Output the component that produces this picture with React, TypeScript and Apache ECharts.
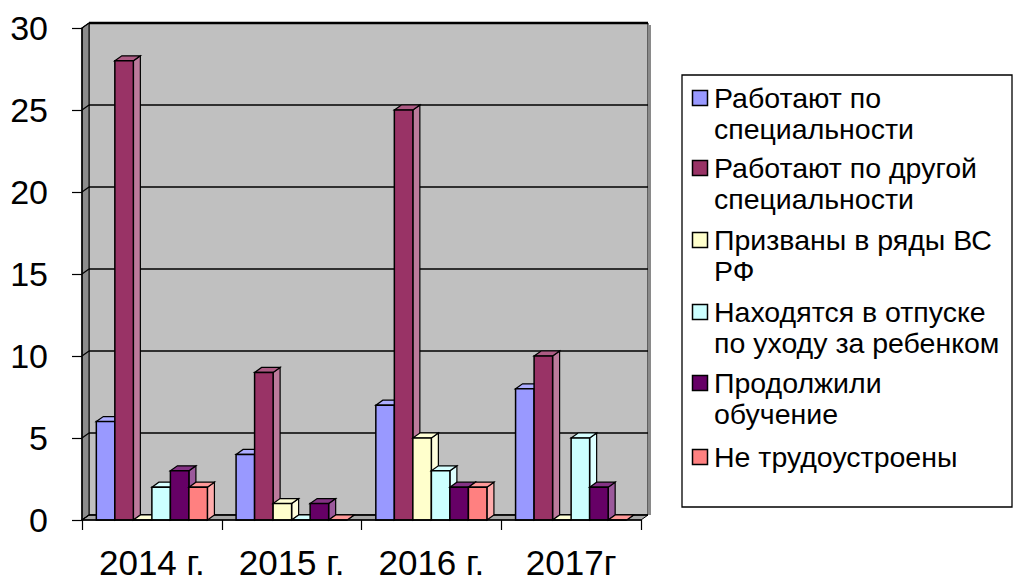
import React, { useEffect, useRef } from "react";
import * as echarts from "echarts";

const categories = ["2014 г.", "2015 г.", "2016 г.", "2017г"];
const seriesNames = [
  "Работают по специальности",
  "Работают по другой специальности",
  "Призваны в ряды ВС РФ",
  "Находятся в отпуске по уходу за ребенком",
  "Продолжили обучение",
  "Не трудоустроены",
];
const legendLabels = [
  "Работают по\nспециальности",
  "Работают по другой\nспециальности",
  "Призваны в ряды ВС\nРФ",
  "Находятся в отпуске\nпо уходу за ребенком",
  "Продолжили\nобучение",
  "Не трудоустроены",
];
const workInField = [6, 4, 7, 8];
const workOtherField = [28, 9, 25, 10];
const conscripted = [0, 1, 5, 0];
const parentalLeave = [2, 0, 3, 5];
const continuedStudy = [3, 1, 2, 2];
const unemployed = [2, 0, 2, 0];
const seriesValues = [workInField, workOtherField, conscripted, parentalLeave, continuedStudy, unemployed];
const colors = ["#9999FF", "#993366", "#FFFFCC", "#CCFFFF", "#660066", "#FF8080"];
const yTicks = [0, 5, 10, 15, 20, 25, 30];

const FONT = "'Liberation Sans', Arial, sans-serif";
const DX = 7;
const DY = 5;

export default function App() {
  const ref = useRef<HTMLDivElement>(null);
  useEffect(() => {
    if (!ref.current) return;
    const chart = echarts.init(ref.current, null, { renderer: "svg" });

    const wallSeries: any = {
      type: "custom",
      name: "walls",
      z: 1,
      silent: true,
      data: [[0, 0]],
      encode: { x: 0, y: 1 },
      renderItem: (params: any, api: any) => {
        const cs = params.coordSys;
        const x0 = cs.x, x1 = cs.x + cs.width;
        const yb = cs.y + cs.height, yt = cs.y;
        const children: any[] = [
          {
            type: "polygon",
            shape: { points: [[x0 + DX, yt - DY], [x1 + DX, yt - DY], [x1 + DX, yb - DY], [x0 + DX, yb - DY]] },
            style: { fill: "#C0C0C0", stroke: "#000", lineWidth: 1 },
          },
          {
            type: "line",
            shape: { x1: x1 + DX + 1.5, y1: yt - DY + 2, x2: x1 + DX + 1.5, y2: yb - DY },
            style: { stroke: "#8a8a8a", lineWidth: 3 },
          },
          {
            type: "polygon",
            shape: { points: [[x0, yt], [x0 + DX, yt - DY], [x0 + DX, yb - DY], [x0, yb]] },
            style: { fill: "#8c8c8c", stroke: "#000", lineWidth: 1 },
          },
          {
            type: "polygon",
            shape: { points: [[x0, yb], [x0 + DX, yb - DY], [x1 + DX, yb - DY], [x1, yb]] },
            style: { fill: "#a8a8a8", stroke: "#000", lineWidth: 1 },
          },
        ];
        yTicks.forEach((v) => {
          const y = api.coord([0, v])[1];
          children.push({
            type: "line",
            shape: { x1: x0 + DX, y1: y - DY, x2: x1 + DX, y2: y - DY },
            style: { stroke: "#000", lineWidth: v === 30 ? 2.5 : 1.5 },
          });
          children.push({
            type: "line",
            shape: { x1: x0, y1: y, x2: x0 + DX, y2: y - DY },
            style: { stroke: "#000", lineWidth: 1.2 },
          });
        });
        return { type: "group", children };
      },
    };

    const barSeries = seriesValues.map((vals, s) => {
      const color = colors[s];
      const side = echarts.color.lift(color, 0.35);
      const top = echarts.color.lift(color, 0.2);
      return {
        type: "custom",
        name: seriesNames[s],
        z: 2,
        itemStyle: { color },
        data: vals.map((v, i) => [i, v]),
        encode: { x: 0, y: 1 },
        renderItem: (params: any, api: any) => {
          const ci = api.value(0);
          const v = api.value(1);
          const base = api.coord([ci, 0]);
          const tp = api.coord([ci, v]);
          const band = api.size([1, 0])[0];
          const w = band * 0.1325;
          const x = base[0] - 3 * w + s * w;
          const y0 = base[1];
          const y1 = tp[1];
          return {
            type: "group",
            children: [
              {
                type: "polygon",
                shape: { points: [[x + w, y1], [x + w + DX, y1 - DY], [x + w + DX, y0 - DY], [x + w, y0]] },
                style: { fill: side, stroke: "#000", lineWidth: 1.2 },
              },
              {
                type: "polygon",
                shape: { points: [[x, y1], [x + DX, y1 - DY], [x + w + DX, y1 - DY], [x + w, y1]] },
                style: { fill: top, stroke: "#000", lineWidth: 1.2 },
              },
              {
                type: "rect",
                shape: { x, y: y1, width: w, height: y0 - y1 },
                style: { fill: color, stroke: "#000", lineWidth: 1.5 },
              },
            ],
          };
        },
      };
    });

    // Legend drawn as graphic elements (icon aligned with first text line)
    const legendLineCenters = [98, 168, 240, 312, 383, 457];
    const legendChildren: any[] = [
      {
        type: "rect",
        shape: { x: 682, y: 75, width: 330, height: 432 },
        style: { fill: "#fff", stroke: "#000", lineWidth: 1.3 },
      },
    ];
    legendLabels.forEach((label, i) => {
      const cy = legendLineCenters[i];
      legendChildren.push({
        type: "rect",
        shape: { x: 692.5, y: cy - 7.5, width: 15, height: 15 },
        style: { fill: colors[i], stroke: "#000", lineWidth: 1.5 },
      });
      legendChildren.push({
        type: "text",
        x: 714,
        y: cy - 15.5,
        style: {
          text: label,
          fontSize: 28.5,
          lineHeight: 31,
          fontFamily: FONT,
          fill: "#000",
          verticalAlign: "top",
          align: "left",
        },
      });
    });

    const option: any = {
      animation: false,
      backgroundColor: "#fff",
      textStyle: { fontFamily: FONT },
      grid: { left: 82, right: 373, top: 28, bottom: 60 },
      xAxis: {
        type: "category",
        data: categories,
        z: 5,
        axisLine: { show: true, lineStyle: { color: "#000", width: 1.5 } },
        axisTick: { show: true, length: 10, lineStyle: { color: "#000", width: 1.2 } },
        axisLabel: { interval: 0, fontSize: 35, lineHeight: 28, color: "#000", margin: 28, fontFamily: FONT },
        splitLine: { show: false },
      },
      yAxis: {
        type: "value",
        min: 0,
        max: 30,
        interval: 5,
        z: 5,
        axisLine: { show: true, lineStyle: { color: "#000", width: 1.5 } },
        axisTick: { show: true, length: 10, lineStyle: { color: "#000", width: 1.2 } },
        axisLabel: { fontSize: 34, color: "#000", margin: 34, fontFamily: FONT },
        splitLine: { show: false },
      },
      graphic: [{ type: "group", children: legendChildren }],
      series: [wallSeries, ...barSeries],
    };
    chart.setOption(option);
    return () => chart.dispose();
  }, []);
  return <div ref={ref} style={{ position: "fixed", left: 0, top: 0, width: 1014, height: 580 }} />;
}
